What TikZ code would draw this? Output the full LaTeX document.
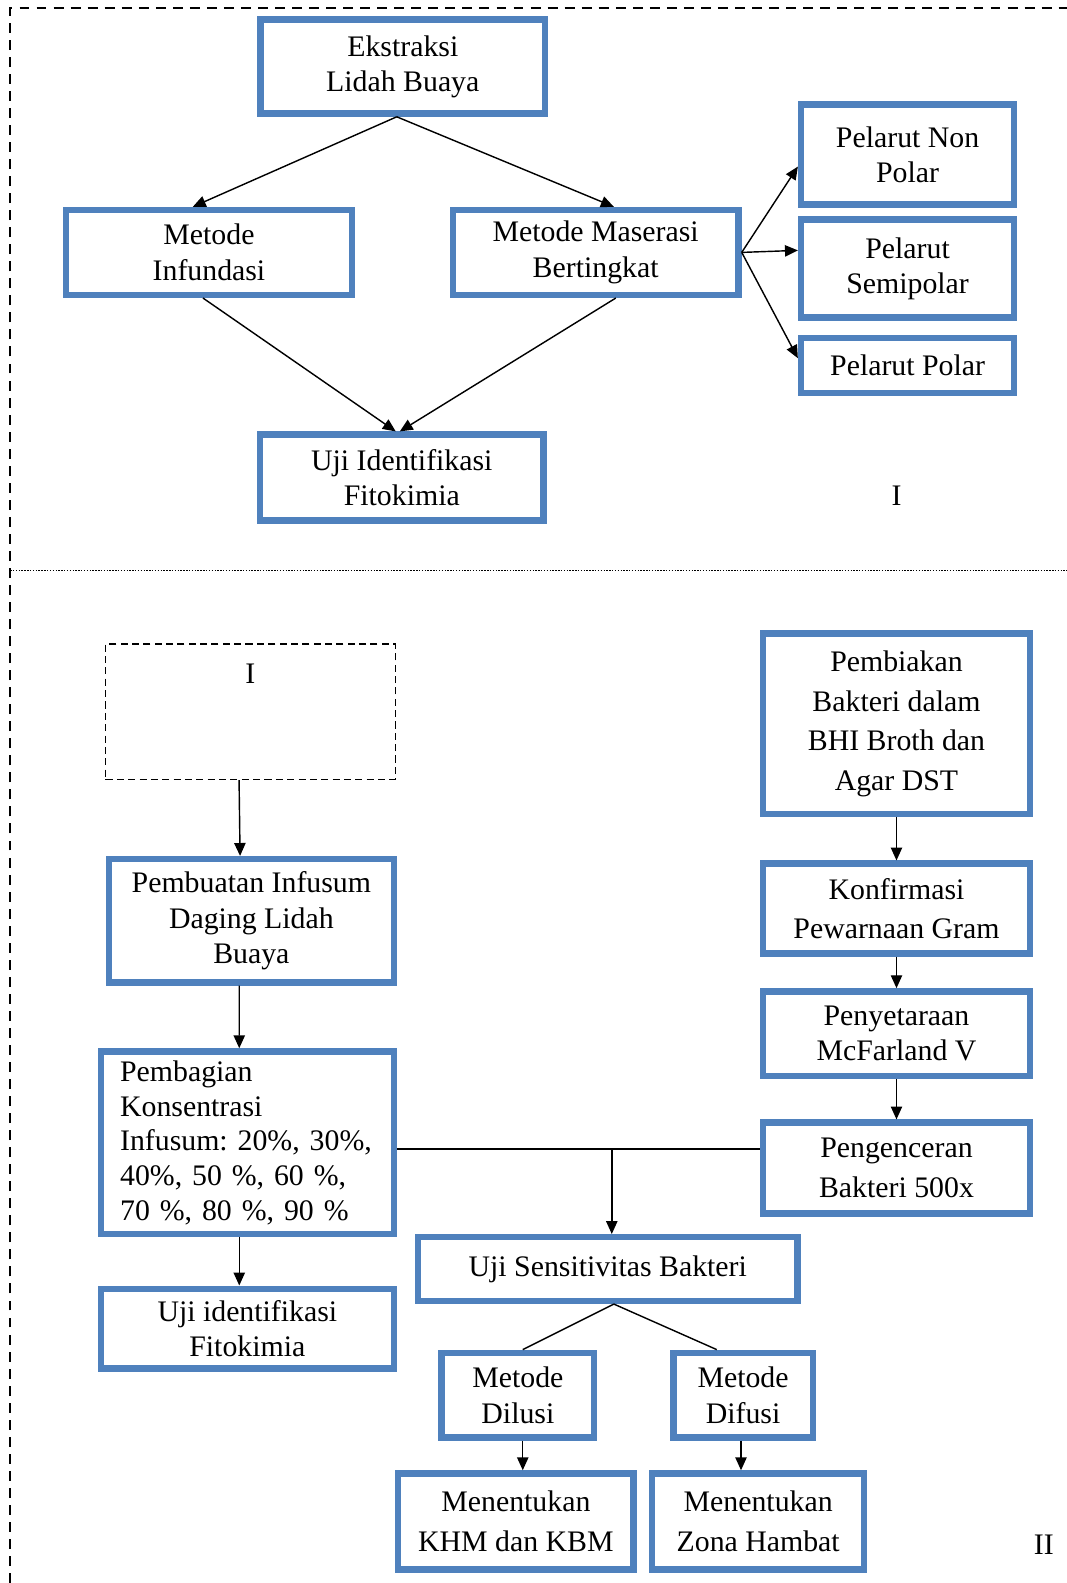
\documentclass[tikz,border=0pt]{standalone}
\usepackage{fontspec}
\setmainfont{Liberation Serif}
\usetikzlibrary{arrows.meta, calc}

\definecolor{boxblue}{RGB}{79,129,189}

\begin{document}
\begin{tikzpicture}
	[
		x=0.025cm, y=-0.025cm,
		box/.style={
				rectangle,
				line width=4.5pt,
				draw=boxblue,
				fill=white,
				align=center,
				inner sep=2pt,
				font=\fontsize{21}{24.8}\selectfont,
			},
		tallBox/.style={
				box,
				font=\fontsize{21}{27.8}\selectfont,
			},
		emptyBox/.style={
				rectangle,
				draw=black,
				line width=0.9pt,
				dash pattern=on 5pt off 3pt,
			},
		arr/.style={-{Triangle[length=0.32cm,width=0.28cm]}, line width=1pt},
		link/.style={line width=1pt},
		label/.style={font=\fontsize{21}{24.8}\selectfont},
	]
	\useasboundingbox (0,0) rectangle (1056,1568);

	% frame of part I and II
	\draw [line width=1pt, dash pattern=on 7pt off 5pt] (10,1568) -- (10,8) -- (1060,8);
	\draw [line width=0.5pt, dash pattern=on 1pt off 1pt] (10,565) -- (1060,565);

	% part I
	\node (ekstraksi)  [box, minimum width=7.05cm,  minimum height=2.325cm] at (399,66)  {Ekstraksi\\Lidah Buaya};
	\node (infundasi)  [box, minimum width=7.075cm, minimum height=2.1cm]   at (207,250) {Metode\\Infundasi};
	\node (maserasi)   [box, minimum width=7.075cm, minimum height=2.1cm]   at (590,250) {Metode Maserasi\\Bertingkat};
	\node (nonpolar)   [box, minimum width=5.275cm, minimum height=2.475cm] at (899,153) {Pelarut Non\\Polar};
	\node (semipolar)  [box, minimum width=5.275cm, minimum height=2.425cm] at (899,266) {Pelarut\\Semipolar};
	\node (polar)      [box, minimum width=5.275cm, minimum height=1.375cm] at (899,362) {Pelarut Polar};
	\node (ujiI)       [box, minimum width=7.025cm, minimum height=2.125cm] at (398,473) {Uji Identifikasi\\Fitokimia};
	\node (labelI)     [label] at (888,491) {I};

	\draw [arr] ([xshift=-0.15cm]ekstraksi.south) -- ([xshift=-0.4cm]infundasi.north);
	\draw [arr] ([xshift=-0.15cm]ekstraksi.south) -- ([xshift=0.45cm]maserasi.north);
	\draw [arr] ([xshift=-0.15cm]infundasi.south) -- ([xshift=-0.15cm]ujiI.north);
	\draw [arr] ([xshift=0.5cm]maserasi.south) -- ([xshift=-0.05cm]ujiI.north);
	\draw [arr] (maserasi.east) -- ([yshift=-0.3cm]nonpolar.west);
	\draw [arr] (maserasi.east) -- ([yshift=0.45cm]semipolar.west);
	\draw [arr] (maserasi.east) -- ([yshift=0.18cm]polar.west);

	% part II
	\node (boxI)        [emptyBox, minimum width=7.175cm, minimum height=3.35cm] at (248,705) {};
	\node (boxIlabel)   [label] at (248,667) {I};
	\node (pembuatan)   [box, minimum width=7.05cm, minimum height=3.05cm] at (249,912) {Pembuatan Infusum\\Daging Lidah\\Buaya};
	\node (pembagian)   [box, minimum width=7.25cm, minimum height=4.525cm, text width=6.3cm, align=left,
		font=\fontsize{21}{24.4}\selectfont] at (245,1132)
		{Pembagian\\Konsentrasi\\Infusum:\ 20\%, 30\%,\\40\%, 50 \%, 60 \%,\\70 \%, 80 \%, 90 \%};
	\node (ujiII)       [box, minimum width=7.25cm, minimum height=1.975cm] at (245,1316) {Uji identifikasi\\Fitokimia};

	\node (pembiakan)   [tallBox, minimum width=6.6cm, minimum height=4.475cm] at (888,717)  {Pembiakan\\Bakteri dalam\\BHI Broth dan\\Agar DST};
	\node (konfirmasi)  [tallBox, minimum width=6.6cm, minimum height=2.225cm] at (888,900)  {Konfirmasi\\Pewarnaan Gram};
	\node (penyetaraan) [box,     minimum width=6.6cm, minimum height=2.1cm]   at (888,1024) {Penyetaraan\\McFarland V};
	\node (pengenceran) [tallBox, minimum width=6.6cm, minimum height=2.25cm]  at (888,1157) {Pengenceran\\Bakteri 500x};

	\node (sensitivitas) [box, minimum width=9.4cm,  minimum height=1.575cm] at (602,1257) {Uji Sensitivitas Bakteri};
	\node (dilusi)       [box, minimum width=3.775cm, minimum height=2.1cm]  at (513,1382) {Metode\\Dilusi};
	\node (difusi)       [box, minimum width=3.45cm,  minimum height=2.1cm]  at (736,1382) {Metode\\Difusi};
	\node (khm)          [tallBox, minimum width=5.825cm, minimum height=2.375cm] at (511,1507) {Menentukan\\KHM dan KBM};
	\node (zona)         [tallBox, minimum width=5.25cm,  minimum height=2.375cm] at (751,1507) {Menentukan\\Zona Hambat};
	\node (labelII)      [label] at (1034,1530) {II};

	\coordinate (junction) at (606,1138);

	\draw [arr] ([xshift=-0.28cm]boxI.south) -- ([xshift=-0.28cm]pembuatan.north);
	\draw [arr] ([xshift=-0.3cm]pembuatan.south) -- ([xshift=-0.2cm]pembagian.north);
	\draw [arr] ([xshift=-0.2cm]pembagian.south) -- ([xshift=-0.2cm]ujiII.north);
	\draw [arr] (pembiakan.south) -- (konfirmasi.north);
	\draw [arr] (konfirmasi.south) -- (penyetaraan.north);
	\draw [arr] (penyetaraan.south) -- (pengenceran.north);
	\draw [link] (pembagian.east |- junction) -- (pengenceran.west |- junction);
	\draw [arr] (junction) -- (sensitivitas.north -| junction);
	\draw [link] ([xshift=0.15cm]sensitivitas.south) -- ([xshift=0.12cm]dilusi.north);
	\draw [link] ([xshift=0.15cm]sensitivitas.south) -- ([xshift=-0.65cm]difusi.north);
	\draw [arr] ([xshift=0.12cm]dilusi.south) -- ([xshift=0.12cm]dilusi.south |- khm.north);
	\draw [arr] ([xshift=-0.05cm]difusi.south) -- ([xshift=-0.05cm]difusi.south |- zona.north);
\end{tikzpicture}
\end{document}
